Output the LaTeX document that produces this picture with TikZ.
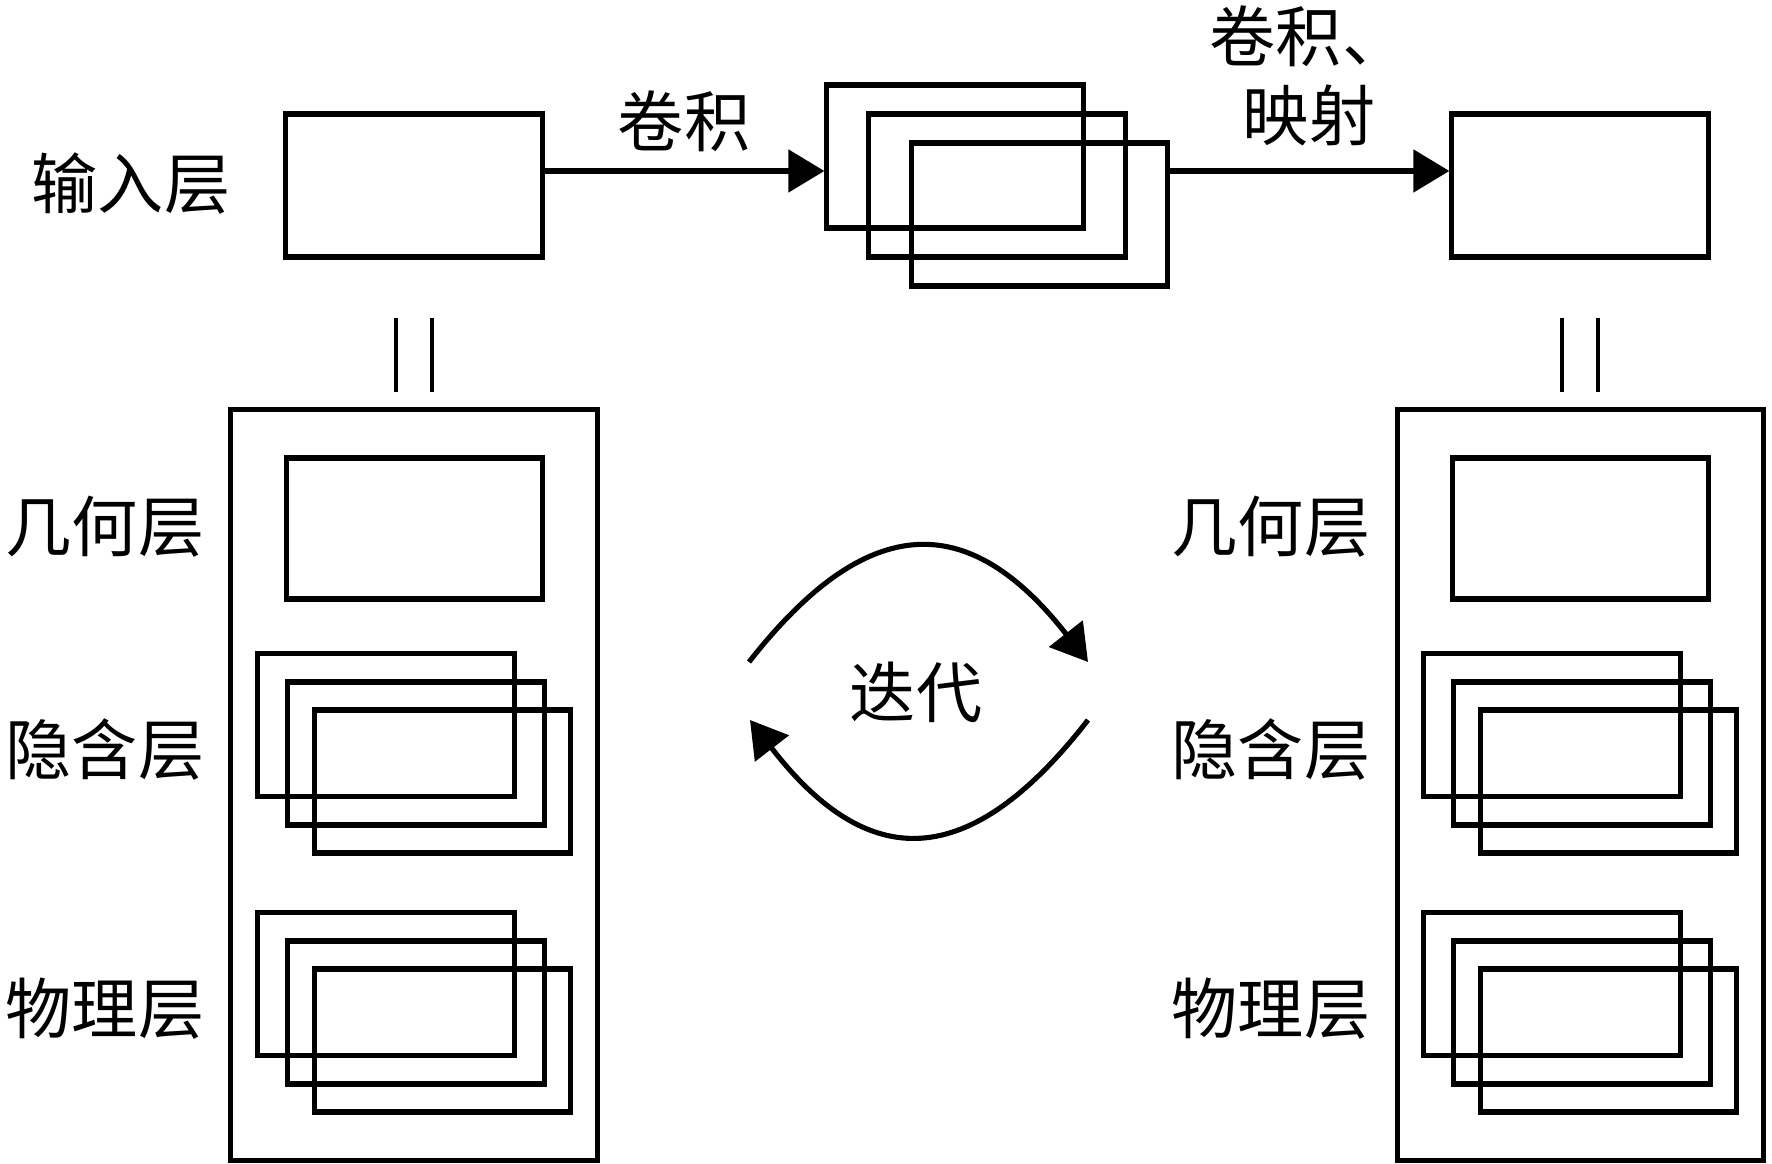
\documentclass[tikz,border=0pt]{standalone}
\usepackage{fontspec}
\newfontfamily\cjk{Noto Sans CJK SC}
\usetikzlibrary{arrows.meta,calc}
\begin{document}
\begin{tikzpicture}[x=0.01cm,y=-0.01cm,
  box/.style={draw, line width=1.45pt, minimum width=2.56cm, minimum height=1.43cm, inner sep=0pt},
  cont/.style={draw, line width=1.45pt, minimum width=3.66cm, minimum height=7.5cm, inner sep=0pt},
  lbl/.style={font=\cjk\fontsize{18.8pt}{22.5pt}\selectfont, inner sep=0pt},
  arr/.style={line width=1.45pt, -{Triangle[length=0.36cm,width=0.42cm]}},
  eqline/.style={line width=1.2pt}]
\useasboundingbox (0,0) rectangle (1772,1164);
% top row
\node[box] (in) at (414,185.5) {};
\node[box] (ca) at (955,156.5) {};
\node[box] (cb) at (997,185.5) {};
\node[box] (cc) at (1039.5,214.5) {};
\node[box] (out) at (1580,185.5) {};
\node[lbl] (tin) at (131,184) {输入层};
\node[lbl] (t1) at (684,121) {卷积};
\node[lbl, align=center] (t2) at (1309,75.5) {卷积、\\映射};
\coordinate (a1) at ([yshift=0.145cm]in.east);
\draw[arr] (a1) -- (a1 -| ca.west);
\coordinate (a2) at ([yshift=0.435cm]cc.east);
\draw[arr] (a2) -- (a2 -| out.west);
% containers
\node[cont] (lc) at (414,785) {};
\node[cont] (rc) at (1580.5,785) {};
% equality marks
\coordinate (e1) at ($(in.south)+(0,58)$);
\coordinate (e2) at ($(out.south)+(0,58)$);
\draw[eqline] ($(e1)+(-17.75,0)$) -- ++(0,74);
\draw[eqline] ($(e1)+(17.75,0)$) -- ++(0,74);
\draw[eqline] ($(e2)+(-17.75,0)$) -- ++(0,74);
\draw[eqline] ($(e2)+(17.75,0)$) -- ++(0,74);
% left container content
\node[box, minimum height=1.41cm] (lg) at (414.5,528.5) {};
\node[box] (lh1) at (386,725) {};
\node[box] (lh2) at (416,753.5) {};
\node[box] (lh3) at (442.5,781.5) {};
\node[box] (lp1) at (386,984) {};
\node[box] (lp2) at (416,1012.5) {};
\node[box] (lp3) at (442.5,1040.5) {};
\node[lbl] (lgt) at (105,527) {几何层};
\node[lbl] (lht) at (105,750) {隐含层};
\node[lbl] (lpt) at (105,1009) {物理层};
% right container content
\node[box, minimum height=1.41cm] (rg) at (1580.5,528.5) {};
\node[box] (rh1) at (1552,725) {};
\node[box] (rh2) at (1582,753.5) {};
\node[box] (rh3) at (1608.5,781.5) {};
\node[box] (rp1) at (1552,984) {};
\node[box] (rp2) at (1582,1012.5) {};
\node[box] (rp3) at (1608.5,1040.5) {};
\node[lbl] (rgt) at (1271,527) {几何层};
\node[lbl] (rht) at (1271,750) {隐含层};
\node[lbl] (rpt) at (1271,1009) {物理层};
% iteration
\node[lbl] (it) at (916,692) {迭代};
\coordinate (u1) at (749,662);
\coordinate (u2) at (1088,662);
\coordinate (l1) at (1088,720);
\coordinate (l2) at (750,720);
\draw[arr] (u1) .. controls (868,510) and (969,510) .. (u2);
\draw[arr] (l1) .. controls (969,873) and (868,873) .. (l2);
\end{tikzpicture}
\end{document}
